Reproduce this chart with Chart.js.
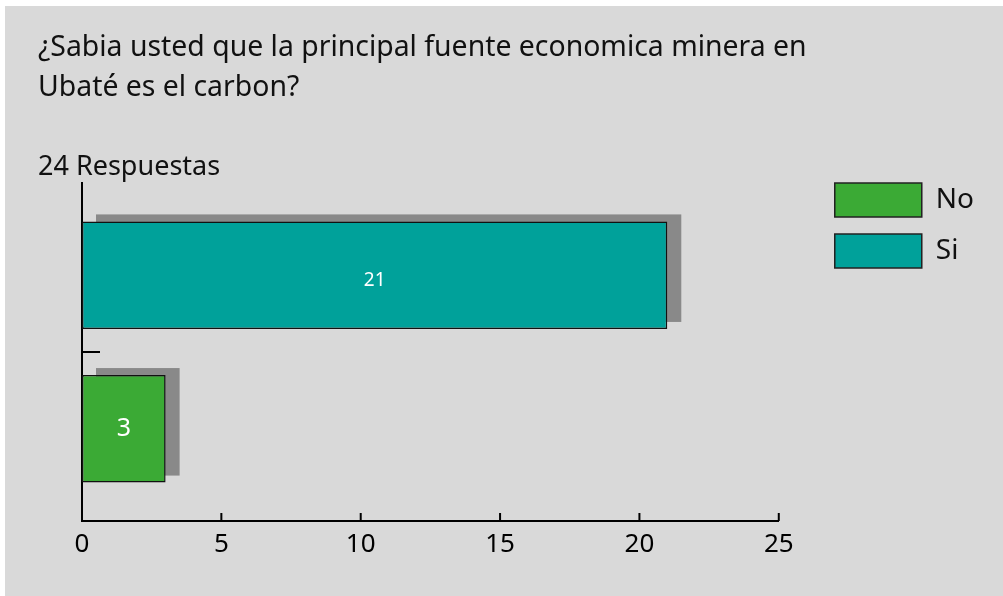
<!DOCTYPE html>
<html>
<head>
<meta charset="utf-8">
<script src="https://cdn.jsdelivr.net/npm/chart.js@4.4.0/dist/chart.umd.min.js"></script>
<style>
  body { margin: 0; background: #fff; }
  #wrap { position: absolute; left: 5px; top: 6px; width: 998px; height: 590px; background: #d9d9d9; }
</style>
</head>
<body>
<div id="wrap"><canvas id="chart" width="998" height="590"></canvas></div>
<script>
// datos de la encuesta
const titleLines = ['¿Sabia usted que la principal fuente economica minera en', 'Ubaté es el carbon?']
const subtitleText = '24 Respuestas'
const categories = ['Si', 'No']
const values = [21, 3]
const positions = [1, 2]
const legendOrder = ['No', 'Si']
const xTicks = [0, 5, 10, 15, 20, 25]

// estilos
const barColors = ['#00a19a', '#3baa35']
const labelSizes = [19, 25]
const labelShift = [5, 0]
const FONT = '"Noto Sans", sans-serif'

// sombra gris detras de cada barra
const barShadow = {
  id: 'barShadow',
  beforeDatasetsDraw(chart) {
    const ctx = chart.ctx
    chart.getDatasetMeta(0).data.forEach(bar => {
      ctx.save()
      ctx.fillStyle = '#898989'
      ctx.fillRect(bar.base + 14, bar.y - bar.height / 2 - 7, bar.x - bar.base, bar.height)
      ctx.restore()
    })
  }
}

// numero blanco dentro de cada barra
const valueLabels = {
  id: 'valueLabels',
  afterDatasetsDraw(chart) {
    const ctx = chart.ctx
    chart.getDatasetMeta(0).data.forEach((bar, i) => {
      ctx.save()
      ctx.fillStyle = '#fff'
      ctx.font = `${labelSizes[i]}px ${FONT}`
      ctx.textAlign = 'center'
      ctx.textBaseline = 'middle'
      ctx.fillText(String(values[i]), (bar.x + bar.base) / 2, bar.y + labelShift[i])
      ctx.restore()
    })
  }
}

// marcas de los ejes hacia adentro
const innerTicks = {
  id: 'innerTicks',
  afterDatasetsDraw(chart) {
    const { ctx, chartArea, scales: { x, y } } = chart
    ctx.save()
    ctx.strokeStyle = '#000'
    ctx.lineWidth = 2
    ctx.beginPath()
    x.ticks.forEach(t => {
      const px = x.getPixelForValue(t.value)
      ctx.moveTo(px, chartArea.bottom)
      ctx.lineTo(px, chartArea.bottom - 8)
    })
    const py = y.getPixelForValue((positions[0] + positions[1]) / 2)
    ctx.moveTo(chartArea.left, py)
    ctx.lineTo(chartArea.left + 18, py)
    ctx.stroke()
    ctx.restore()
  }
}

// mover la leyenda al lado derecho, alineada con el area
const legendSpot = {
  id: 'legendSpot',
  afterLayout(chart) {
    const lg = chart.legend
    lg.left = chart.chartArea.right + 39
    lg.right = lg.left + lg.width
    lg.top = chart.chartArea.top - lg.options.labels.padding
    lg.bottom = lg.top + lg.height
  }
}

const ctx = document.getElementById('chart').getContext('2d')
new Chart(ctx, {
  type: 'bar',
  data: {
    datasets: [{
      data: categories.map((c, i) => ({ x: values[i], y: positions[i] })),
      backgroundColor: barColors,
      borderColor: '#111',
      borderWidth: 1.5,
      borderSkipped: false,
      barPercentage: 0.875,
      categoryPercentage: 0.8,
    }],
  },
  options: {
    indexAxis: 'y',
    responsive: false,
    animation: false,
    devicePixelRatio: 1,
    layout: { padding: { left: 33, right: 58, top: 0, bottom: 0 } },
    scales: {
      x: {
        type: 'linear',
        min: 0,
        max: 25,
        afterBuildTicks: s => { s.ticks = xTicks.map(v => ({ value: v })) },
        afterFit: s => { s.height = 75 },
        grid: { display: false, drawTicks: false },
        border: { display: true, color: '#000', width: 2 },
        ticks: { color: '#000', padding: 8, font: { family: FONT, size: 26 } },
      },
      y: {
        type: 'linear',
        min: 0.4,
        max: 2.6,
        offset: false,
        bounds: 'data',
        reverse: true,
        afterBuildTicks: s => { s.ticks = positions.map(v => ({ value: v })) },
        afterFit: s => { s.width = 44 },
        grid: { display: false, drawTicks: false, offset: false },
        border: { display: true, color: '#000', width: 2 },
        ticks: { display: false },
      },
    },
    plugins: {
      title: {
        display: true,
        text: titleLines,
        align: 'start',
        color: '#111',
        font: { family: FONT, size: 28.4, weight: 'normal', lineHeight: 40 / 28.4 },
        padding: { top: 22, bottom: 40 },
      },
      subtitle: {
        display: true,
        text: subtitleText,
        align: 'start',
        color: '#111',
        font: { family: FONT, size: 27, weight: 'normal', lineHeight: 30 / 27 },
        padding: { top: 4, bottom: 1 },
      },
      legend: {
        display: true,
        position: 'right',
        align: 'start',
        fullSize: false,
        labels: {
          boxWidth: 87,
          boxHeight: 34,
          padding: 17,
          color: '#111',
          font: { family: FONT, size: 28 },
          generateLabels: () => legendOrder.map(name => {
            const i = categories.indexOf(name)
            return {
              text: name,
              fillStyle: barColors[i],
              strokeStyle: '#222',
              lineWidth: 1.5,
              hidden: false,
              index: i,
              fontColor: '#111',
            }
          }),
        },
      },
      tooltip: { enabled: false },
    },
  },
  plugins: [barShadow, valueLabels, innerTicks, legendSpot],
})
</script>
</body>
</html>
